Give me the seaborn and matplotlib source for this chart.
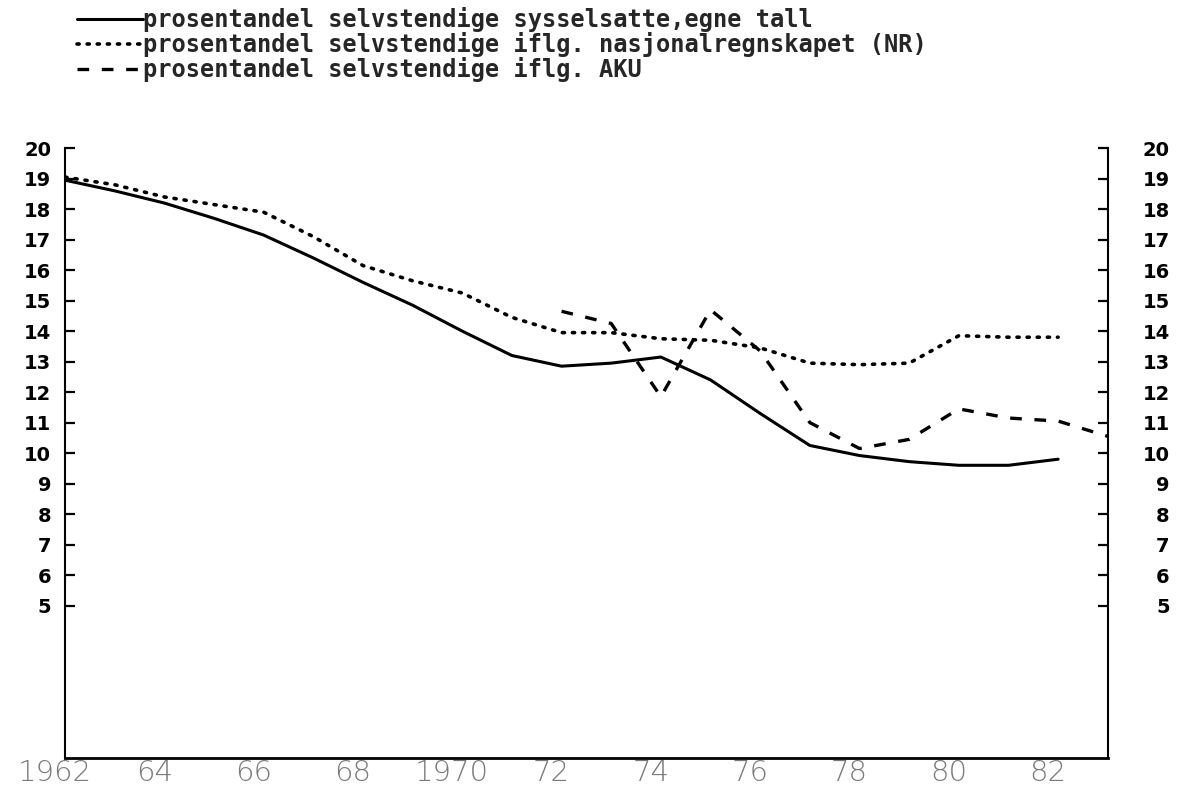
import matplotlib
matplotlib.use("Agg")
import matplotlib.pyplot as plt
import matplotlib.transforms as mtransforms
import pandas as pd
import seaborn as sns

# -------------------------------
# DATA
# -------------------------------
years = list(range(1962, 1983))
egne_tall = [18.95, 18.6, 18.2, 17.7, 17.15, 16.4, 15.6, 14.85, 14.0, 13.2, 12.85,
             12.95, 13.15, 12.4, 11.3, 10.25, 9.92, 9.72, 9.6, 9.6, 9.8]
nr_tall = [19.05, 18.8, 18.4, 18.15, 17.9, 17.1, 16.15, 15.65, 15.25, 14.45, 13.95,
           13.95, 13.75, 13.7, 13.45, 12.95, 12.9, 12.95, 13.85, 13.8, 13.8]
aku_years = list(range(1972, 1984))
aku_tall = [14.65, 14.25, 11.85, 14.7, 13.35, 11.0, 10.15, 10.45, 11.45, 11.15, 11.05, 10.55]

labels = [
    "prosentandel selvstendige sysselsatte,egne tall",
    "prosentandel selvstendige iflg. nasjonalregnskapet (NR)",
    "prosentandel selvstendige iflg. AKU",
]
x_ticks = list(range(1962, 1984))
x_ticklabels = ["1962", "", "64", "", "66", "", "68", "", "1970", "", "72", "",
                "74", "", "76", "", "78", "", "80", "", "82", ""]
y_ticks = list(range(5, 21))

df_main = pd.DataFrame({"year": years, "egne": egne_tall, "nr": nr_tall})
df_aku = pd.DataFrame({"year": aku_years, "aku": aku_tall})

# -------------------------------
# STYLE
# -------------------------------
sns.set_theme(style="white")
plt.rcParams["font.family"] = ["DejaVu Sans"]

fig = plt.figure(figsize=(11.77, 7.88), dpi=100)
ax = fig.add_axes([0.0552, 0.038, 0.886, 0.774])

sns.lineplot(data=df_main, x="year", y="egne", color="black", linewidth=2.2,
             label=labels[0], ax=ax)
sns.lineplot(data=df_main, x="year", y="nr", color="black", linewidth=2.6,
             linestyle=(0, (0.6, 2.2)), dash_capstyle="round", label=labels[1], ax=ax)
sns.lineplot(data=df_aku, x="year", y="aku", color="black", linewidth=2.4,
             linestyle=(0, (3.5, 3.8)), label=labels[2], ax=ax)

ax.set_xlim(1962, 1983)
ax.set_ylim(0, 20)
ax.set_xlabel("")
ax.set_ylabel("")

for side in ["left", "right"]:
    ax.spines[side].set_linewidth(1.5)
    ax.spines[side].set_color("black")
ax.spines["bottom"].set_linewidth(2.0)
ax.spines["bottom"].set_color("black")
ax.spines["top"].set_visible(False)

# y ticks on both sides, pointing inward
ax.set_yticks(y_ticks)
ax.tick_params(axis="y", which="both", direction="in", length=7, width=1.6,
               left=True, right=True, labelleft=True, labelright=True,
               labelsize=14, colors="black", pad=10)
offset_r = mtransforms.ScaledTranslation(0.48, 0, fig.dpi_scale_trans)
for t in ax.yaxis.get_major_ticks():
    t.label1.set_fontweight("bold")
    t.label2.set_fontweight("bold")
    t.label2.set_horizontalalignment("right")
    t.label2.set_transform(t.label2.get_transform() + offset_r)

# x ticks: upward marks every year, labels every second year
ax.set_xticks(x_ticks)
ax.set_xticklabels(x_ticklabels)
ax.tick_params(axis="x", direction="in", length=24, width=1.2, colors="black",
               labelsize=21, pad=1, labelcolor="#7a7a7a")
offset_x = mtransforms.ScaledTranslation(-0.1, 0, fig.dpi_scale_trans)
for lbl in ax.get_xticklabels():
    lbl.set_fontweight("light")
    lbl.set_transform(lbl.get_transform() + offset_x)

# legend above the plot
ax.get_legend().remove()
handles, _ = ax.get_legend_handles_labels()
fig.legend(handles, labels, loc="upper left", bbox_to_anchor=(77 / 1177, 1 - 7 / 788),
           frameon=False, handlelength=2.8, handletextpad=0.0, labelspacing=0.0,
           borderpad=0, borderaxespad=0,
           prop={"family": "DejaVu Sans Mono", "weight": "bold", "size": 17})

plt.savefig("out.png", dpi=100)
plt.close()
